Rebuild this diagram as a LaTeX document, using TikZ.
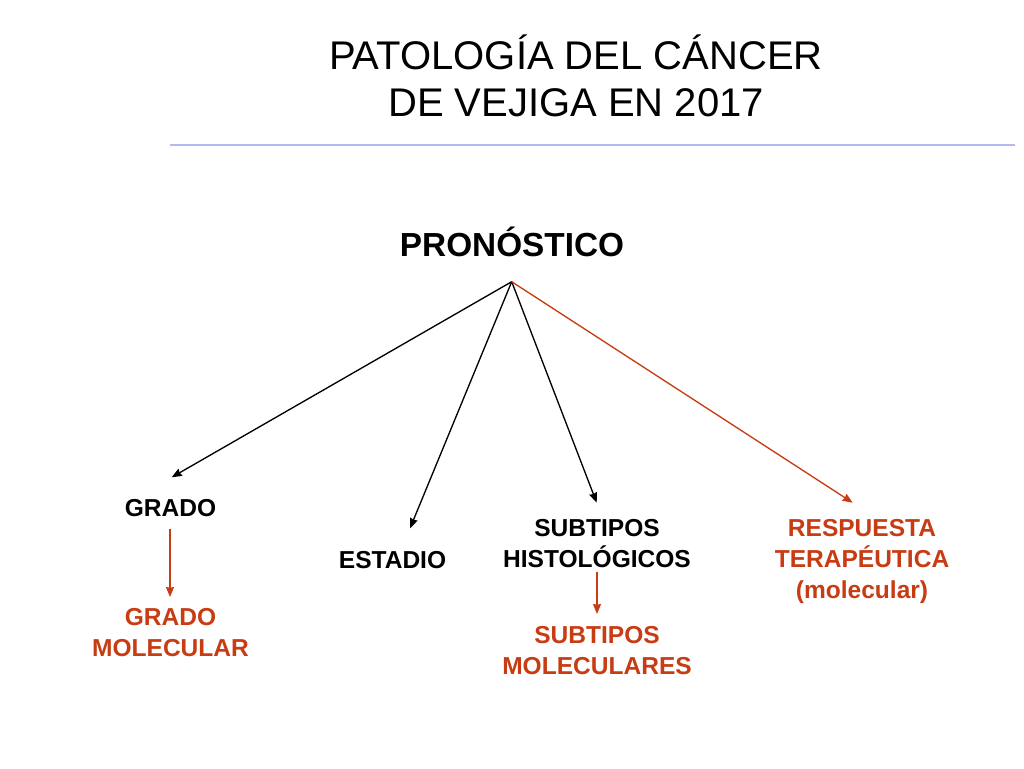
\documentclass[tikz,border=0pt]{standalone}
\usepackage{fontspec}
\setmainfont{Liberation Sans}
\usetikzlibrary{arrows.meta}
\definecolor{tred}{RGB}{200,60,20}
\definecolor{rulec}{RGB}{180,186,240}
\begin{document}
\begin{tikzpicture}[x=0.75pt,y=-0.75pt,
  title/.style={font=\fontsize{30pt}{35.5pt}\selectfont, anchor=base, align=center, inner sep=0pt},
  head/.style={font=\bfseries\fontsize{25pt}{28pt}\selectfont, anchor=base, inner sep=0pt},
  lbl/.style={font=\bfseries\fontsize{18.4pt}{23.25pt}\selectfont, anchor=base, align=center, inner sep=0pt},
  rlbl/.style={lbl, text=tred},
  arr/.style={line width=1pt, -{Stealth[length=7.5pt,width=6pt,inset=0.6pt]}},
  rarr/.style={arr, draw=tred, fill=tred}
]
\useasboundingbox[fill=white] (0,0) rectangle (1024,768);
% title
\node[title] (t1) at (576,69.3) {PATOLOGÍA DEL CÁNCER};
\node[title] (t2) at (576,116.7) {DE VEJIGA EN 2017};
\coordinate (rl) at (170,145);
\coordinate (rr) at (1015,145);
\draw[rulec, line width=1.6pt] (rl) -- (rr);
% heading
\node[head] (prono) at (512,256) {PRONÓSTICO};
\coordinate (apex) at (511.7,281.7);
% labels (base anchor = baseline of last line)
\node[lbl] (grado) at (170.5,516.7) {GRADO};
\node[lbl] (estadio) at (392.5,568) {ESTADIO};
\node[lbl] (subhist) at (597,567.3) {SUBTIPOS\\HISTOLÓGICOS};
\node[rlbl] (resp) at (862,598.5) {RESPUESTA\\TERAPÉUTICA\\(molecular)};
\node[rlbl] (gradomol) at (170.5,656) {GRADO\\MOLECULAR};
\node[rlbl] (submol) at (597,674) {SUBTIPOS\\MOLECULARES};
% arrow end points
\coordinate (eg) at (171.7,477.3);
\coordinate (ee) at (410,528.3);
\coordinate (es) at (596.7,502.7);
\coordinate (er) at (852.7,502.7);
\coordinate (g1) at (170,529);
\coordinate (g2) at (170,597);
\coordinate (s1) at (597,571.7);
\coordinate (s2) at (597,614);
% connectors
\draw[arr] (apex) -- (eg);
\draw[arr] (apex) -- (ee);
\draw[arr] (apex) -- (es);
\draw[rarr] (apex) -- (er);
\draw[rarr] (g1) -- (g2);
\draw[rarr] (s1) -- (s2);
\end{tikzpicture}
\end{document}
